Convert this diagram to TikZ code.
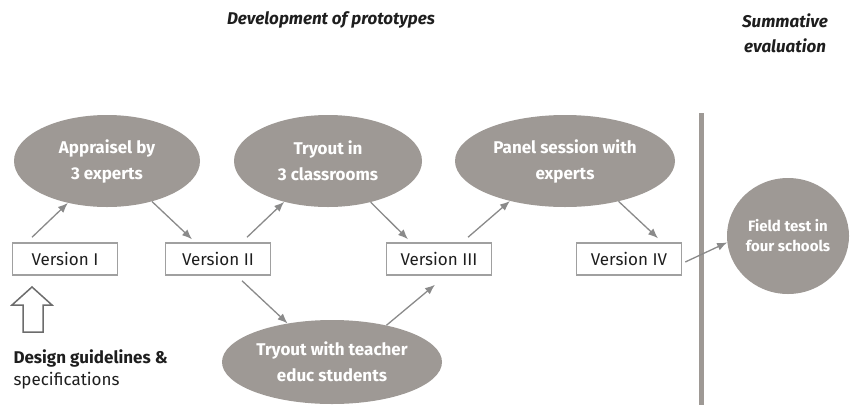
\documentclass[tikz,border=0pt]{standalone}
\usepackage{fontspec}
\setmainfont{Fira Sans}
\usetikzlibrary{shapes.geometric,arrows.meta}
\definecolor{ellgray}{HTML}{9E9995}
\definecolor{boxgray}{HTML}{A0A0A0}
\definecolor{arrgray}{HTML}{8A8A8A}
\definecolor{txtdark}{HTML}{1E1E1E}
\begin{document}
\begin{tikzpicture}[x=1pt,y=-1pt,
  ell/.style={ellipse,fill=ellgray,inner sep=0pt,text=white,align=center,
    font=\fontsize{17}{26}\selectfont\bfseries},
  vbox/.style={draw=boxgray,line width=1.5pt,fill=white,minimum width=105pt,
    minimum height=32pt,inner sep=0pt,text=txtdark,font=\fontsize{17}{20}\selectfont},
  arr/.style={draw=arrgray,line width=1.3pt,-{Latex[length=10pt,width=8pt]}},
  ttl/.style={text=txtdark,align=center,font=\fontsize{17}{25}\selectfont\bfseries\itshape}]
\useasboundingbox (0,0) rectangle (850,405);

% titles
\node[ttl] (t1) at (331,20) {Development of prototypes};
\node[ttl] (t2) at (785,33) {Summative\\evaluation};

% separator
\draw[line width=5pt,ellgray] (701,113) -- (701,405);

% ellipses
\node[ell,minimum width=186pt,minimum height=92pt] (a1) at (107,161) {Appraisel by\\3 experts};
\node[ell,minimum width=188pt,minimum height=92pt] (a2) at (328,161) {Tryout in\\3 classrooms};
\node[ell,minimum width=220pt,minimum height=92pt] (a3) at (565,161) {Panel session with\\experts};
\node[ell,minimum width=220pt,minimum height=84pt] (a4) at (332,362) {Tryout with teacher\\educ students};
\node[ell,minimum width=122pt,minimum height=116pt,inner sep=-10pt,
  font=\fontsize{15}{20}\selectfont\bfseries] (ft) at (788,236) {Field test in\\four schools};

% version boxes
\node[vbox] (v1) at (65,259) {Version I};
\node[vbox] (v2) at (218,259) {Version II};
\node[vbox] (v3) at (439,259) {Version III};
\node[vbox] (v4) at (629,259) {Version IV};

% arrows
\draw[arr] ([xshift=-33pt,yshift=5pt]v1.north) -- (a1.227);
\draw[arr] (a1.318) -- ([xshift=-26pt,yshift=3pt]v2.north);
\draw[arr] ([xshift=29pt,yshift=5pt]v2.north) -- (a2.223);
\draw[arr] (a2.316) -- ([xshift=-31pt,yshift=3pt]v3.north);
\draw[arr] ([xshift=29pt,yshift=5pt]v3.north) -- (a3.216);
\draw[arr] (a3.323) -- ([xshift=29pt,yshift=4pt]v4.north);
\draw[arr] ([xshift=3pt,yshift=-3pt]v4.east) -- (ft.186);
\draw[arr] ([xshift=24pt,yshift=-5pt]v2.south) -- (a4.139);
\draw[arr] (a4.34) -- ([xshift=-4pt,yshift=-9pt]v3.south);

% hollow up arrow
\draw[line width=1.5pt,draw=gray!85!black,line join=miter]
  (12,305) -- (32,287) -- (52,305) -- (43,305) -- (43,332) -- (23,332) -- (23,305) -- cycle;

% design guidelines
\node[anchor=west,text=txtdark,font=\fontsize{17}{22}\selectfont\bfseries] (dg) at (10,358) {Design guidelines \&};
\node[anchor=west,text=txtdark,font=\fontsize{17}{22}\selectfont] (sp) at (10,381) {specifications};
\end{tikzpicture}
\end{document}
